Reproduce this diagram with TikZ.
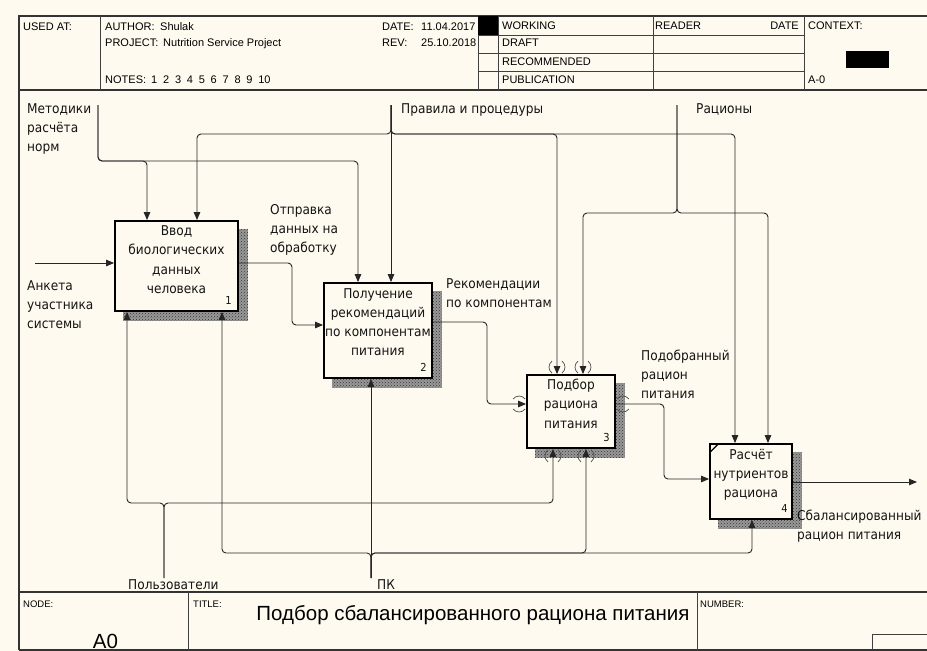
\documentclass[tikz,border=0pt]{standalone}
\usepackage{fontspec}
\setmainfont{DejaVu Sans}[FakeStretch=0.9]
\newfontfamily\formfont{Liberation Sans}
\usetikzlibrary{arrows.meta,patterns,calc,backgrounds}
\definecolor{paper}{HTML}{FFFAF0}
\definecolor{ink}{HTML}{141414}

% multi-line nodes are placed by the baseline of their last line
\tikzset{
  frameline/.style={draw=black!80, line width=1.1pt},
  gridline/.style={draw=black!75, line width=0.8pt},
  formtext/.style={font=\formfont\fontsize{11}{12}\selectfont, inner sep=0, anchor=base west},
  smallform/.style={font=\formfont\fontsize{9.5}{10}\selectfont, inner sep=0, anchor=base west},
  bigform/.style={font=\formfont\fontsize{20.5}{22}\selectfont, inner sep=0, anchor=base},
  activity/.style={draw=black, line width=1.8pt, fill=paper, inner sep=0},
  acttext/.style={font=\fontsize{13.5}{19.2}\selectfont, align=center, inner sep=0, anchor=base, text=ink},
  actnum/.style={font=\fontsize{11}{12}\selectfont, inner sep=0, anchor=base east, text=ink},
  lbl/.style={font=\fontsize{13.5}{19.2}\selectfont, align=left, inner sep=0, anchor=base west, text=ink},
  conn/.style={draw=black!85, line width=0.9pt, rounded corners=4pt},
  arr/.style={conn, -{Triangle[length=8pt,width=6.5pt]}},
  tunnelmark/.style={draw=black!70, line width=0.7pt},
  boxshade/.style={fill=black!40, postaction={pattern=crosshatch dots, pattern color=black!80}},
  tunv/.pic={
    \draw[tunnelmark] (-5,-13) .. controls (-9,-10) and (-9,-4) .. (-5,-1);
    \draw[tunnelmark] (5,-13) .. controls (9,-10) and (9,-4) .. (5,-1);
  }
}

\begin{document}
\begin{tikzpicture}[x=1pt,y=-1pt]
\useasboundingbox (0,0) rectangle (927,651);

% ---------- activity boxes ----------
\node[activity, minimum width=123pt, minimum height=90pt] (b1) at (176.5,266) {};
\node[activity, minimum width=108pt, minimum height=95pt] (b2) at (378,330.5) {};
\node[activity, minimum width=88pt, minimum height=73pt] (b3) at (571,411.5) {};
\node[activity, minimum width=82pt, minimum height=75pt] (b4) at (751,481.5) {};

\begin{pgfonlayer}{background}
  \fill[paper] (0,0) rectangle (927,651);
  \foreach \b in {b1,b2,b3,b4}
    \path[boxshade] ($(\b.north west)+(9,9)$) rectangle ($(\b.south east)+(9,9)$);
\end{pgfonlayer}

\node[acttext] (t1) at ($(b1.north)+(0,73.1)$) {Ввод\\биологических\\данных\\человека};
\node[acttext] (t2) at ($(b2.north)+(0,73.6)$) {Получение\\рекомендаций\\по компонентам\\питания};
\node[acttext] (t3) at ($(b3.north)+(0,53.9)$) {Подбор\\рациона\\питания};
\node[acttext] (t4) at ($(b4.north)+(0,54.4)$) {Расчёт\\нутриентов\\рациона};

\node[actnum] (n1) at ($(b1.south east)+(-7,-7)$) {1};
\node[actnum] (n2) at ($(b2.south east)+(-6,-7)$) {2};
\node[actnum] (n3) at ($(b3.south east)+(-6,-7)$) {3};
\node[actnum] (n4) at ($(b4.south east)+(-5,-7)$) {4};

% corner stroke of the last activity
\draw[line width=1.2pt] ($(b4.north west)+(1,9)$) -- ($(b4.north west)+(9,1)$);

% ---------- free ends of boundary arrows ----------
\coordinate (inA) at (35,263);
\coordinate (ctlM) at (98,105);
\coordinate (ctlP) at (391,105);
\coordinate (ctlR) at (677,105);
\coordinate (mU) at (164,578);
\coordinate (mP) at (371,578);
\coordinate (outA) at (917,482);

% ---------- inputs and outputs ----------
\draw[arr] (inA) -- (inA -| b1.west);
\draw[arr] (b1.east |- 0,263) -- (292,263) -- (292,325) -- (b2.west |- 0,325);
\draw[arr] (b2.east |- 0,322) -- (487,322) -- (487,404) -- (b3.west |- 0,404);
\draw[arr] (b3.east |- 0,404) -- (664,404) -- (664,479) -- (b4.west |- 0,479);
\draw[arr] (b4.east |- outA) -- (outA);

% ---------- controls ----------
\draw[arr] (ctlM) -- (98,161) -- (358,161) -- (358,0 |- b2.north);
\draw[arr] (ctlM) -- (98,161) -- (147,161) -- (147,0 |- b1.north);

\draw[arr] (ctlP) -- (391,0 |- b2.north);
\draw[arr] (ctlP) -- (391,134) -- (197,134) -- (197,0 |- b1.north);
\draw[arr] (ctlP) -- (391,134) -- (557,134) -- (557,0 |- b3.north);
\draw[arr] (ctlP) -- (391,134) -- (735,134) -- (735,0 |- b4.north);

\draw[arr] (ctlR) -- (677,213) -- (583,213) -- (583,0 |- b3.north);
\draw[arr] (ctlR) -- (677,213) -- (768,213) -- (768,0 |- b4.north);

% ---------- mechanisms ----------
\draw[arr] (mU) -- (164,503) -- (127,503) -- (127,0 |- b1.south);
\draw[arr] (mU) -- (164,503) -- (553,503) -- (553,0 |- b3.south);

\draw[arr] (mP) -- (371,0 |- b2.south);
\draw[arr] (mP) -- (371,553) -- (222,553) -- (222,0 |- b1.south);
\draw[arr] (mP) -- (371,553) -- (586,553) -- (586,0 |- b3.south);
\draw[arr] (mP) -- (371,553) -- (752,553) -- (752,0 |- b4.south);

% ---------- tunnelled arrow ends ----------
\pic at (557,0 |- b3.north) {tunv};
\pic at (583,0 |- b3.north) {tunv};
\pic[rotate=180] at (553,0 |- b3.south) {tunv};
\pic[rotate=180] at (586,0 |- b3.south) {tunv};
\pic[rotate=90] at (b3.west |- 0,404) {tunv};
\pic[rotate=-90] at (b3.east |- 0,404) {tunv};

% ---------- arrow labels ----------
\node[lbl] (lMet) at (27,151.4) {Методики\\расчёта\\норм};
\node[lbl] (lPrav) at (401,113) {Правила и процедуры};
\node[lbl] (lRac) at (696,113) {Рационы};
\node[lbl] (lOtp) at (270,252.4) {Отправка\\данных на\\обработку};
\node[lbl] (lAnk) at (27,328.4) {Анкета\\участника\\системы};
\node[lbl] (lRek) at (446,307.2) {Рекомендации\\по компонентам};
\node[lbl] (lPod) at (641,398.4) {Подобранный\\рацион\\питания};
\node[lbl] (lSba) at (797,539.2) {Сбалансированный\\рацион питания};
\node[lbl] (lPol) at (128,589) {Пользователи};
\node[lbl] (lPK) at (377,589) {ПК};

% ---------- form: header ----------
\draw[frameline] (19,650) -- (19,16) -- (927,16);
\draw[frameline] (19,90) -- (927,90);
\foreach \xx in {100,478,498,653,804}
  \draw[gridline] (\xx,16) -- (\xx,90);
\foreach \yy in {35,53,71}
  \draw[gridline] (478,\yy) -- (804,\yy);
\fill (478,16) rectangle (498,35);
\fill (846,51) rectangle (889,68);

\node[formtext] (hUsed) at (23,30) {USED AT:};
\node[formtext] (hAuth) at (105,30) {AUTHOR:};
\node[formtext] (hAuthV) at (160,30) {Shulak};
\node[formtext] (hProj) at (105,46) {PROJECT:};
\node[formtext] (hProjV) at (163,46) {Nutrition Service Project};
\node[formtext] (hNotes) at (105,83) {NOTES:};
\foreach \n [count=\i] in {1,...,10}
  \node[formtext] (hN\i) at ({151+11.9*(\i-1)},83) {\n};
\node[formtext] (hDate) at (382,30) {DATE:};
\node[formtext] (hDateV) at (421,30) {11.04.2017};
\node[formtext] (hRev) at (382,46) {REV:};
\node[formtext] (hRevV) at (421,46) {25.10.2018};
\node[formtext] (hWork) at (502,29.5) {WORKING};
\node[formtext] (hDraft) at (502,46) {DRAFT};
\node[formtext] (hRec) at (502,65) {RECOMMENDED};
\node[formtext] (hPub) at (502,83) {PUBLICATION};
\node[formtext] (hRead) at (655,29.5) {READER};
\node[formtext, anchor=base east] (hRDate) at (799,29.5) {DATE};
\node[formtext] (hCtx) at (808,29.5) {CONTEXT:};
\node[formtext] (hA0) at (808,83) {A-0};

% ---------- form: footer ----------
\draw[frameline] (19,592) -- (927,592);
\draw[frameline] (19,650) -- (927,650);
\draw[gridline] (188,592) -- (188,650);
\draw[gridline] (697,592) -- (697,650);
\draw[gridline] (872,650) -- (872,634) -- (927,634);
\node[smallform] (fNode) at (23,607) {NODE:};
\node[smallform] (fTitle) at (193,607) {TITLE:};
\node[smallform] (fNum) at (700,607) {NUMBER:};
\node[bigform] (fTitleV) at (473,620) {Подбор сбалансированного рациона питания};
\node[bigform] (fNodeV) at (105.5,648) {A0};
\end{tikzpicture}
\end{document}
